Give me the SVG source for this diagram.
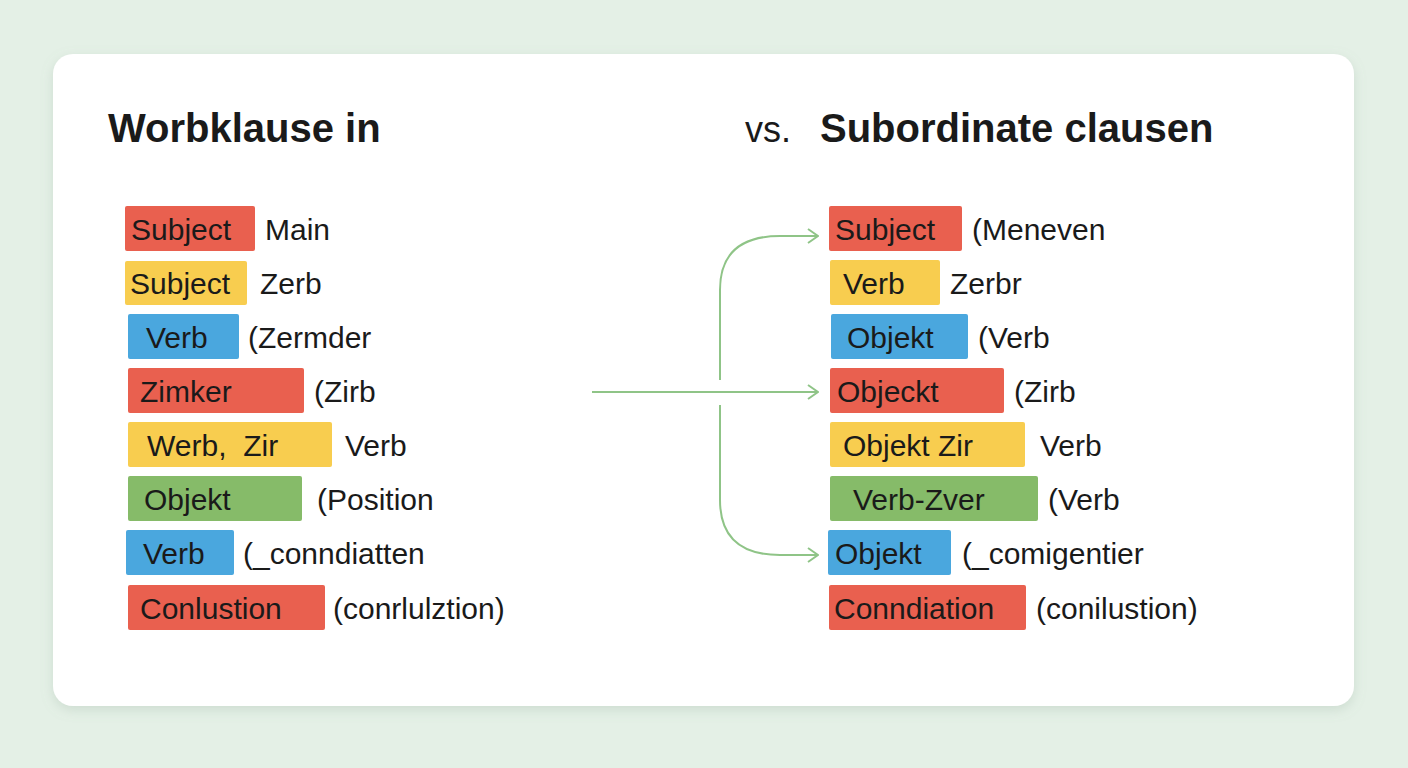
<svg xmlns="http://www.w3.org/2000/svg" width="1408" height="768" viewBox="0 0 1408 768">
<defs>
<style>
.r{fill:#e9604f}.y{fill:#f8cd4f}.b{fill:#4aa7de}.g{fill:#86bb69}
text{font-family:"Liberation Sans",Arial,sans-serif;fill:#1a1a1a}
.t{font-size:30px}
.h{font-size:40px;font-weight:bold}
.c{fill:none;stroke:#8fc487;stroke-width:2}
</style>
<marker id="a" viewBox="0 0 12 16" refX="11" refY="8" markerWidth="12" markerHeight="16" markerUnits="userSpaceOnUse" orient="auto"><path d="M1 1L11 8L1 15" fill="none" stroke="#8fc487" stroke-width="2"/></marker>
<filter id="s" x="-5%" y="-5%" width="110%" height="115%"><feDropShadow dx="0" dy="4" stdDeviation="6" flood-color="#8aa08f" flood-opacity="0.25"/></filter>
</defs>
<rect width="1408" height="768" fill="#e4f0e6"/>
<rect x="53" y="54" width="1301" height="652" rx="20" fill="#fff" filter="url(#s)"/>
<text class="h" x="108" y="142">Worbklause in</text>
<text x="745" y="142" style="font-size:36px">vs.</text>
<text class="h" x="820" y="142">Subordinate clausen</text>
<g id="connectors">
<line class="c" x1="592" y1="392" x2="818" y2="392" marker-end="url(#a)"/>
<path class="c" d="M720 380V290Q720 236 780 236H818" marker-end="url(#a)"/>
<path class="c" d="M720 405V500Q720 555 780 555H818" marker-end="url(#a)"/>
</g>
<g id="L1"><rect class="r" x="125" y="206" width="130" height="45" rx="2"/><text class="t" x="131" y="240">Subject</text><text class="t" x="265" y="240">Main</text></g>
<g id="L2"><rect class="y" x="125" y="261" width="122" height="44" rx="2"/><text class="t" x="130" y="294">Subject</text><text class="t" x="260" y="294">Zerb</text></g>
<g id="L3"><rect class="b" x="128" y="314" width="111" height="45" rx="2"/><text class="t" x="146" y="348">Verb</text><text class="t" x="248" y="348">(Zermder</text></g>
<g id="L4"><rect class="r" x="128" y="368" width="176" height="45" rx="2"/><text class="t" x="140" y="402">Zimker</text><text class="t" x="314" y="402">(Zirb</text></g>
<g id="L5"><rect class="y" x="128" y="422" width="204" height="45" rx="2"/><text class="t" x="147" y="456" xml:space="preserve">Werb,  Zir</text><text class="t" x="345" y="456">Verb</text></g>
<g id="L6"><rect class="g" x="128" y="476" width="174" height="45" rx="2"/><text class="t" x="144" y="510">Objekt</text><text class="t" x="317" y="510">(Position</text></g>
<g id="L7"><rect class="b" x="126" y="530" width="108" height="45" rx="2"/><text class="t" x="143" y="564">Verb</text><text class="t" x="243" y="564">(_conndiatten</text></g>
<g id="L8"><rect class="r" x="128" y="585" width="197" height="45" rx="2"/><text class="t" x="140" y="619">Conlustion</text><text class="t" x="333" y="619">(conrlulztion)</text></g>
<g id="R1"><rect class="r" x="829" y="206" width="133" height="45" rx="2"/><text class="t" x="835" y="240">Subject</text><text class="t" x="972" y="240">(Meneven</text></g>
<g id="R2"><rect class="y" x="830" y="260" width="110" height="45" rx="2"/><text class="t" x="843" y="294">Verb</text><text class="t" x="950" y="294">Zerbr</text></g>
<g id="R3"><rect class="b" x="831" y="314" width="137" height="45" rx="2"/><text class="t" x="847" y="348">Objekt</text><text class="t" x="978" y="348">(Verb</text></g>
<g id="R4"><rect class="r" x="830" y="368" width="174" height="45" rx="2"/><text class="t" x="837" y="402">Objeckt</text><text class="t" x="1014" y="402">(Zirb</text></g>
<g id="R5"><rect class="y" x="830" y="422" width="195" height="45" rx="2"/><text class="t" x="843" y="456">Objekt Zir</text><text class="t" x="1040" y="456">Verb</text></g>
<g id="R6"><rect class="g" x="830" y="476" width="208" height="45" rx="2"/><text class="t" x="853" y="510">Verb-Zver</text><text class="t" x="1048" y="510">(Verb</text></g>
<g id="R7"><rect class="b" x="828" y="530" width="123" height="45" rx="2"/><text class="t" x="835" y="564">Objekt</text><text class="t" x="962" y="564">(_comigentier</text></g>
<g id="R8"><rect class="r" x="829" y="585" width="197" height="45" rx="2"/><text class="t" x="834" y="619">Conndiation</text><text class="t" x="1036" y="619">(conilustion)</text></g>
</svg>
